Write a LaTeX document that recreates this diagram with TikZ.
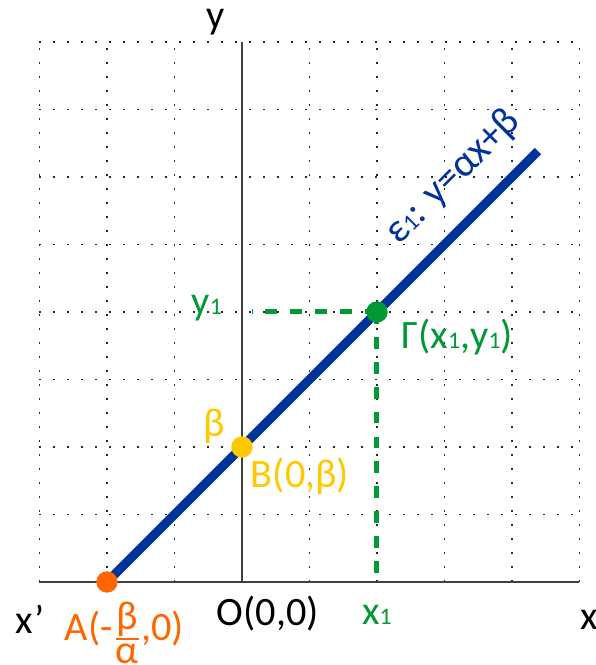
\documentclass[tikz,border=0pt]{standalone}
\usepackage{fontspec}
\setmainfont{Carlito}
\usetikzlibrary{positioning}
\definecolor{LineBlue}{RGB}{0,51,153}
\definecolor{PtOrange}{RGB}{255,102,0}
\definecolor{PtGold}{RGB}{255,200,0}
\definecolor{PtGreen}{RGB}{0,153,51}
\newcommand{\idx}[1]{{\fontsize{10}{10}\selectfont #1}}
\tikzset{
  gridln/.style={draw=black!85,line width=0.7pt,dash pattern=on 0.7pt off 5.2pt},
  axis/.style={draw=black!75,line width=0.8pt},
  lin/.style={draw=LineBlue,line width=3.8pt},
  proj/.style={draw=PtGreen,line width=2.1pt,dash pattern=on 5pt off 5.5pt},
  pt/.style={circle,inner sep=0pt,minimum size=9pt},
  lbl/.style={inner sep=1pt,font=\fontsize{17}{20}\selectfont},
}

\begin{document}
\begin{tikzpicture}
\useasboundingbox (-3.585,-1.23) rectangle (5.244,8.622);
\draw[gridln] (-3,0) grid (5,8);
\coordinate (xl) at (-3,0);
\coordinate (xr) at (5,0);
\coordinate (o) at (0,0);
\coordinate (yt) at (0,8);
\coordinate (A) at (-2,0);
\coordinate (B) at (0,2);
\coordinate (G) at (2,4);
\coordinate (E) at (4.385,6.385);
\coordinate (gy) at (0.15,4);
\coordinate (gx) at (2,0);
\draw[axis] (xl)--(xr);
\draw[axis] (o)--(yt);
\draw[proj] (G)--(gy);
\draw[proj] (G)--(gx);
\draw[lin] (A)--(E);
\node[pt,fill=PtOrange] (a) at (A) {};
\node[pt,fill=PtGold] (b) at (B) {};
\node[pt,fill=PtGreen] (g) at (G) {};
\node[lbl] (ylab) at (-0.39,8.3) {y};
\node[lbl] (xplab) at (-3.14,-0.56) {x’};
\node[lbl] (xlab) at (5.14,-0.56) {x};
\node[lbl] (olab) at (0.385,-0.47) {O(0,0)};
\node[lbl,text=PtGreen] (x1lab) at (2.0,-0.49) {x\idx{1}};
\node[lbl,text=PtGreen] (y1lab) at (-0.52,4.06) {y\idx{1}};
\node[lbl,text=PtGreen] (glab) at (3.19,3.63) {Γ(x\idx{1},y\idx{1})};
\node[lbl,text=PtGold] (betalab) at (-0.41,2.31) {β};
\node[lbl,text=PtGold] (blab) at (0.86,1.56) {B(0,β)};
\node[lbl,text=PtOrange,anchor=base] (alab) at (-1.74,-0.86) {A(-\raisebox{-4pt}{${\mbox{β}\above 0.9pt \mbox{α}}$},0)};
\node[lbl,text=LineBlue,rotate=45] (elab) at (3.13,6.0) {ε\idx{1}: y=αx+β};
\end{tikzpicture}
\end{document}
